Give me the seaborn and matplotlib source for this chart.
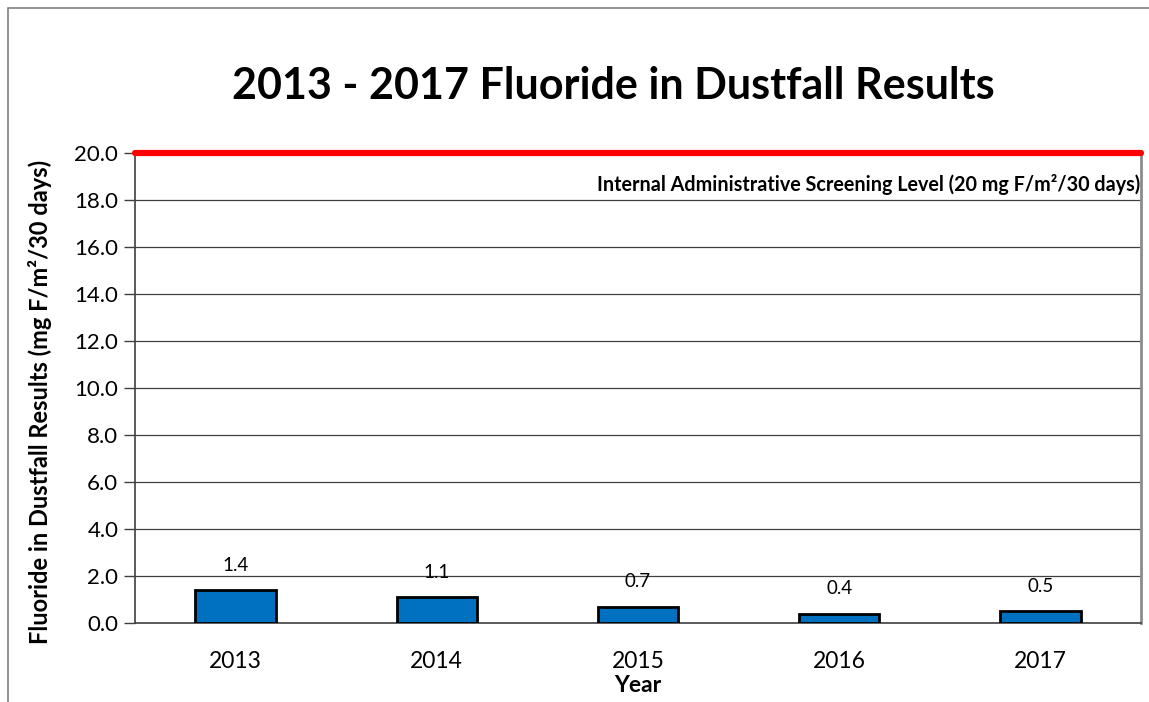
import matplotlib
matplotlib.use("Agg")
import matplotlib.pyplot as plt
import seaborn as sns
import pandas as pd
from matplotlib.patches import Rectangle

years = ["2013", "2014", "2015", "2016", "2017"]
fluoride = [1.4, 1.1, 0.7, 0.4, 0.5]
screening_level = 20.0
y_ticks = [0, 2, 4, 6, 8, 10, 12, 14, 16, 18, 20]

sns.set_theme(style="white")
plt.rcParams["font.family"] = ["Lato", "DejaVu Sans"]
plt.rcParams["text.color"] = "black"
plt.rcParams["axes.labelcolor"] = "black"
plt.rcParams["xtick.color"] = "black"
plt.rcParams["ytick.color"] = "black"

df = pd.DataFrame({"Year": years, "Fluoride": fluoride})

fig = plt.figure(figsize=(11.49, 7.02), dpi=100)
ax = fig.add_axes([135 / 1149, 1 - 623 / 702, (1141 - 135) / 1149, (623 - 153) / 702])

# outer chart frame
fig.patches.append(Rectangle((8 / 1149, -0.01), 1.2, 1 - 8 / 702 + 0.01,
                             transform=fig.transFigure, fill=False,
                             edgecolor="#7f7f7f", linewidth=1.2))

sns.barplot(data=df, x="Year", y="Fluoride", ax=ax, color="#0070C0",
            width=0.4, edgecolor="black", linewidth=2, saturation=1, zorder=3)

ax.set_ylim(0, 20)
ax.set_xlim(-0.5, len(years) - 0.5)
ax.set_yticks(y_ticks)
ax.set_yticklabels([f"{v:.1f}" for v in y_ticks], fontsize=16)
ax.yaxis.grid(True, color="#404040", linewidth=0.9)
ax.set_axisbelow(True)

# tick marks at the category boundaries
ax.set_xticks(range(len(years)))
ax.set_xticklabels(years, fontsize=16.5)
ax.tick_params(axis="x", which="major", length=0, pad=20)
ax.set_xticks([i - 0.5 for i in range(len(years) + 1)], minor=True)
ax.tick_params(axis="x", which="minor", length=8, width=1, color="#404040", direction="out")
ax.tick_params(axis="y", length=8, width=1, color="#404040", direction="out", left=True, pad=4)

for side in ["left", "bottom"]:
    ax.spines[side].set_color("#404040")
    ax.spines[side].set_linewidth(1.2)
ax.spines["right"].set_color("#8c8c8c")
ax.spines["right"].set_linewidth(2)
ax.spines["top"].set_visible(False)

# screening level line
ax.axhline(screening_level, color="#FF0000", linewidth=4.5, zorder=4, clip_on=False)
ax.text(0.999, 0.932, "Internal Administrative Screening Level (20 mg F/m²/30 days)",
        transform=ax.transAxes, ha="right", va="center", fontsize=14.2, fontweight="bold")

# value labels
for i, v in enumerate(fluoride):
    ax.annotate(f"{v:.1f}", (i, v), xytext=(0, 18), textcoords="offset points",
                ha="center", va="center", fontsize=13.5)

ax.set_xlabel("Year", fontsize=16.5, fontweight="bold", labelpad=2)
ax.set_ylabel("Fluoride in Dustfall Results (mg F/m²/30 days)", fontsize=17,
              fontweight="bold")
ax.yaxis.set_label_coords(-0.083, 0.47)
fig.text(613 / 1149, 1 - 86 / 702, "2013 - 2017 Fluoride in Dustfall Results",
         ha="center", va="center", fontsize=31, fontweight="bold")

fig.savefig("out.png", dpi=100)
